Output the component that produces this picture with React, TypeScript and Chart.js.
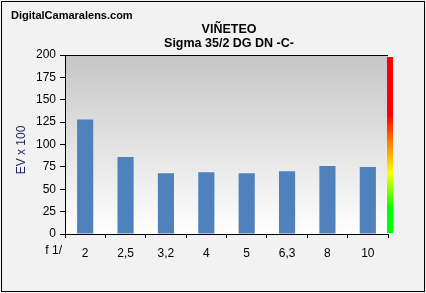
import React, { useEffect, useRef } from "react";
import { Chart, registerables } from "chart.js";

Chart.register(...registerables);

const categories = ["2", "2,5", "3,2", "4", "5", "6,3", "8", "10"];
const values = [128, 86, 68, 69, 68, 70, 76, 75];
const yTicks = [0, 25, 50, 75, 100, 125, 150, 175, 200];
const siteLabel = "DigitalCamaralens.com";
const titleLines = ["VIÑETEO", "Sigma 35/2 DG DN -C-"];
const yTitle = "EV x 100";
const xPrefix = "f 1/";

const FONT = "'Liberation Sans', Arial, sans-serif";

const decorPlugin = {
  id: "decor",
  beforeDraw(chart: any) {
    const { ctx, chartArea: a, width, height } = chart;
    ctx.save();
    ctx.fillStyle = "#f2f2f2";
    ctx.fillRect(0, 0, width, height);
    ctx.strokeStyle = "#000";
    ctx.lineWidth = 1;
    ctx.strokeRect(1.5, 1.5, width - 3, height - 3);
    const g = ctx.createLinearGradient(0, a.top, 0, a.bottom);
    g.addColorStop(0, "#c6c6c6");
    g.addColorStop(1, "#ffffff");
    ctx.fillStyle = g;
    ctx.fillRect(a.left, a.top, a.right - a.left, a.bottom - a.top);
    ctx.restore();
  },
  afterDraw(chart: any) {
    const { ctx, chartArea: a } = chart;
    ctx.save();
    ctx.strokeStyle = "#000";
    ctx.lineWidth = 1;
    ctx.beginPath();
    ctx.moveTo(a.left, a.top + 0.5);
    ctx.lineTo(a.right, a.top + 0.5);
    ctx.stroke();
    const top = a.top + 2;
    const bot = a.bottom - 1;
    const cg = ctx.createLinearGradient(0, top, 0, bot);
    cg.addColorStop(0, "#ff0000");
    cg.addColorStop(0.33, "#ff0000");
    cg.addColorStop(0.49, "#ff8000");
    cg.addColorStop(0.66, "#ffff00");
    cg.addColorStop(0.86, "#00ff00");
    cg.addColorStop(1, "#00ff00");
    ctx.fillStyle = cg;
    ctx.fillRect(a.right - 1, top, 6, bot - top);
    ctx.fillStyle = "#000";
    ctx.textBaseline = "middle";
    ctx.font = `bold 11px ${FONT}`;
    ctx.textAlign = "left";
    ctx.fillText(siteLabel, 11, 16);
    ctx.font = `bold 12.5px ${FONT}`;
    ctx.textAlign = "center";
    ctx.fillText(titleLines[0], 229, 30);
    ctx.fillText(titleLines[1], 229, 44);
    ctx.font = `12px ${FONT}`;
    ctx.textAlign = "right";
    ctx.fillText(xPrefix, 62, 251);
    ctx.translate(22, 150);
    ctx.rotate(-Math.PI / 2);
    ctx.textAlign = "center";
    ctx.fillStyle = "#1f1f5f";
    ctx.fillText(yTitle, 0, 0);
    ctx.restore();
  },
};

export default function App() {
  const ref = useRef<HTMLCanvasElement>(null);
  useEffect(() => {
    document.body.style.margin = "0";
    const chart = new Chart(ref.current!, {
      type: "bar",
      data: {
        labels: categories,
        datasets: [
          {
            data: values,
            backgroundColor: "#4f81bd",
            barPercentage: 0.4,
            categoryPercentage: 1,
          },
        ],
      },
      options: {
        responsive: false,
        animation: false,
        devicePixelRatio: 1,
        layout: { padding: { left: 0, top: 55, right: 38, bottom: 0 } },
        plugins: { legend: { display: false }, tooltip: { enabled: false } },
        scales: {
          x: {
            afterFit: (s: any) => {
              s.height = 59;
            },
            grid: {
              offset: true,
              drawOnChartArea: false,
              drawTicks: true,
              tickLength: 4,
              color: "#000",
            },
            border: { color: "#000", width: 1 },
            ticks: {
              color: "#000",
              font: { family: FONT, size: 12 },
              padding: 8,
              maxRotation: 0,
            },
          },
          y: {
            min: 0,
            max: 200,
            afterFit: (s: any) => {
              s.width = 65;
            },
            afterBuildTicks: (s: any) => {
              s.ticks = yTicks.map((v) => ({ value: v }));
            },
            grid: {
              drawOnChartArea: false,
              drawTicks: true,
              tickLength: 5,
              color: "#000",
            },
            border: { color: "#000", width: 1 },
            ticks: {
              color: "#000",
              font: { family: FONT, size: 12 },
              padding: 4,
            },
          },
        },
      },
      plugins: [decorPlugin],
    });
    return () => chart.destroy();
  }, []);
  return (
    <div style={{ position: "absolute", left: 0, top: 0, width: 426, height: 293 }}>
      <canvas ref={ref} width={426} height={293} style={{ width: 426, height: 293 }} />
    </div>
  );
}
